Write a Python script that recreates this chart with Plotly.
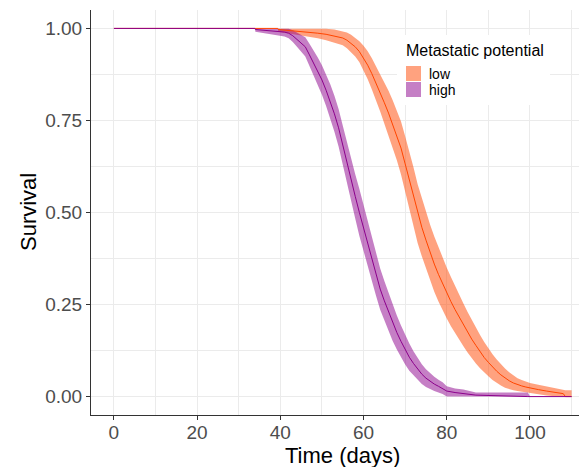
import plotly.graph_objects as go

# ---------------- data ----------------
low_time = [0, 39.4, 39.5, 43, 46, 49, 51, 53, 55, 56, 57, 58, 59, 60, 61, 62, 63, 64, 65, 66, 67, 68, 69,
            70, 71, 72, 73, 74, 75, 76, 77, 78, 79, 80, 81, 82, 83, 84, 85, 86, 87, 88, 89, 90, 91,
            92, 93, 94, 95, 96, 97, 98, 99, 100, 102, 104, 106, 108, 108.5, 110]
low_surv = [1, 1, 0.997, 0.994, 0.991, 0.987, 0.984, 0.980, 0.974, 0.968, 0.960, 0.950, 0.937, 0.920,
            0.900, 0.877, 0.852, 0.826, 0.798, 0.770, 0.740, 0.710, 0.675, 0.632, 0.589, 0.544,
            0.497, 0.460, 0.425, 0.390, 0.360, 0.332, 0.306, 0.281, 0.258, 0.236, 0.215, 0.195,
            0.175, 0.156, 0.139, 0.122, 0.106, 0.093, 0.080, 0.069, 0.059, 0.050, 0.043, 0.037,
            0.032, 0.029, 0.026, 0.023, 0.019, 0.015, 0.011, 0.008, 0.0, 0.0]
low_lower = [1, 1, 0.991, 0.985, 0.980, 0.973, 0.968, 0.962, 0.954, 0.946, 0.936, 0.924, 0.908, 0.886,
             0.862, 0.834, 0.805, 0.774, 0.741, 0.709, 0.675, 0.642, 0.603, 0.557, 0.511, 0.465,
             0.417, 0.381, 0.347, 0.313, 0.285, 0.258, 0.234, 0.212, 0.191, 0.172, 0.154, 0.137,
             0.120, 0.104, 0.090, 0.077, 0.065, 0.055, 0.045, 0.037, 0.030, 0.024, 0.020, 0.017,
             0.015, 0.013, 0.011, 0.009, 0.006, 0.003, 0.001, 0.0, 0.0, 0.0]
low_upper = [1, 1, 1.0, 1.0, 1.0, 1.0, 0.999, 0.997, 0.993, 0.989, 0.983, 0.975, 0.965, 0.953,
             0.938, 0.919, 0.898, 0.877, 0.855, 0.831, 0.805, 0.778, 0.747, 0.707, 0.667, 0.623,
             0.577, 0.539, 0.503, 0.467, 0.435, 0.406, 0.378, 0.350, 0.325, 0.300, 0.276, 0.253,
             0.230, 0.208, 0.188, 0.167, 0.148, 0.131, 0.115, 0.101, 0.088, 0.076, 0.066, 0.058,
             0.050, 0.045, 0.041, 0.037, 0.032, 0.027, 0.022, 0.019, 0.017, 0.017]

high_time = [0, 33.9, 34, 39, 41, 42, 43, 44, 45, 46, 47, 48, 49, 50, 51, 52, 53, 54, 55, 56, 57, 58, 59,
             60, 61, 62, 63, 64, 65, 66, 67, 68, 69, 70, 71, 72, 73, 74, 75, 76, 77, 78, 79, 80,
             82, 84, 87, 99.5, 100, 110]
high_surv = [1, 1, 0.997, 0.993, 0.990, 0.987, 0.980, 0.970, 0.960, 0.950, 0.928, 0.906, 0.884, 0.860,
             0.832, 0.802, 0.768, 0.730, 0.682, 0.634, 0.588, 0.544, 0.500, 0.458, 0.415, 0.372,
             0.332, 0.292, 0.260, 0.230, 0.200, 0.174, 0.150, 0.127, 0.107, 0.090, 0.074, 0.061,
             0.050, 0.041, 0.034, 0.028, 0.022, 0.015, 0.011, 0.008, 0.004, 0.0, 0.0, 0.0]
high_lower = [1, 1, 0.991, 0.983, 0.978, 0.973, 0.963, 0.950, 0.937, 0.924, 0.898, 0.872, 0.847, 0.820,
              0.789, 0.756, 0.719, 0.679, 0.628, 0.578, 0.530, 0.484, 0.436, 0.394, 0.352, 0.311,
              0.274, 0.236, 0.206, 0.179, 0.151, 0.128, 0.107, 0.087, 0.070, 0.057, 0.044, 0.034,
              0.026, 0.020, 0.015, 0.011, 0.007, 0.0, 0.0, 0.0, 0.0, 0.0, 0.0, 0.0]
high_upper = [1, 1, 1.0, 1.0, 1.0, 0.999, 0.995, 0.989, 0.983, 0.976, 0.958, 0.940, 0.921, 0.900,
              0.875, 0.848, 0.817, 0.781, 0.736, 0.690, 0.646, 0.604, 0.564, 0.522, 0.478, 0.433,
              0.390, 0.348, 0.314, 0.281, 0.249, 0.220, 0.193, 0.167, 0.144, 0.123, 0.104, 0.088,
              0.074, 0.063, 0.054, 0.046, 0.039, 0.028, 0.022, 0.019, 0.011, 0.011, 0.0, 0.0]

x_ticks = [0, 20, 40, 60, 80, 100]
y_ticks = [0, 0.25, 0.5, 0.75, 1.0]
legend_title = "Metastatic potential"
group_names = ["low", "high"]

# ---------------- styling ----------------
FONT = "Liberation Sans, Arial, Helvetica, sans-serif"
LOW_LINE = "#FF4500"
LOW_FILL = "rgba(255,69,0,0.5)"
HIGH_LINE = "#8B008B"
HIGH_FILL = "rgba(139,0,139,0.5)"
AX = "#333333"
GRID = "#EBEBEB"

OFF = 8  # default page body margin of the written html
W, H = 587 - OFF, 467 - OFF
ML, MR, MT, MB = 91 - OFF, 0, 10 - OFF, 52

fig = go.Figure()


def band(t, lo, hi, fill):
    fig.add_trace(go.Scatter(x=t, y=lo, mode="lines", line=dict(width=0),
                             hoverinfo="skip", showlegend=False))
    fig.add_trace(go.Scatter(x=t, y=hi, mode="lines", line=dict(width=0),
                             fill="tonexty", fillcolor=fill, hoverinfo="skip", showlegend=False))


band(low_time, low_lower, low_upper, LOW_FILL)
band(high_time, high_lower, high_upper, HIGH_FILL)
fig.add_trace(go.Scatter(x=low_time, y=low_surv, mode="lines", name=group_names[0],
                         line=dict(color=LOW_LINE, width=1), showlegend=False))
fig.add_trace(go.Scatter(x=high_time, y=high_surv, mode="lines", name=group_names[1],
                         line=dict(color=HIGH_LINE, width=1), showlegend=False))

# ---------------- manual legend & titles (paper coordinates from page pixels) ----------------
pw = W - ML - MR
ph = H - MT - MB


def px_x(p):
    return (p - OFF - ML) / pw


def px_y(p):
    return (H + OFF - MB - p) / ph


shapes = [
    dict(type="rect", xref="paper", yref="paper", x0=px_x(397), x1=px_x(550), y0=px_y(105), y1=px_y(35),
         fillcolor="white", line=dict(width=0), layer="above"),
    dict(type="rect", xref="paper", yref="paper", x0=px_x(406), x1=px_x(421), y0=px_y(81), y1=px_y(66),
         fillcolor=LOW_FILL, line=dict(width=0), layer="above"),
    dict(type="rect", xref="paper", yref="paper", x0=px_x(406), x1=px_x(421), y0=px_y(97), y1=px_y(82),
         fillcolor=HIGH_FILL, line=dict(width=0), layer="above"),
]
annotations = [
    dict(text=legend_title, xref="paper", yref="paper", x=px_x(404), y=px_y(50.5), xanchor="left",
         yanchor="middle", showarrow=False, font=dict(family=FONT, size=16, color="black")),
    dict(text=group_names[0], xref="paper", yref="paper", x=px_x(427), y=px_y(74), xanchor="left",
         yanchor="middle", showarrow=False, font=dict(family=FONT, size=14, color="black")),
    dict(text=group_names[1], xref="paper", yref="paper", x=px_x(427), y=px_y(90), xanchor="left",
         yanchor="middle", showarrow=False, font=dict(family=FONT, size=14, color="black")),
    dict(text="Time (days)", xref="paper", yref="paper", x=px_x(342), y=px_y(455), xanchor="center",
         yanchor="middle", showarrow=False, font=dict(family=FONT, size=22, color="black")),
    dict(text="Survival", xref="paper", yref="paper", x=px_x(28), y=px_y(212), xanchor="center",
         yanchor="middle", textangle=-90, showarrow=False, font=dict(family=FONT, size=22, color="black")),
]

fig.update_layout(
    width=W, height=H,
    margin=dict(l=ML, r=MR, t=MT, b=MB, pad=0, autoexpand=False),
    paper_bgcolor="white", plot_bgcolor="white",
    font=dict(family=FONT),
    showlegend=False,
    shapes=shapes,
    annotations=annotations,
)

fig.update_xaxes(
    range=[-5.5, 113.7], tickvals=x_ticks, ticktext=[str(v) for v in x_ticks], automargin=False,
    showline=True, linecolor=AX, linewidth=1.1, mirror=False,
    ticks="outside", ticklen=4, tickwidth=1.1, tickcolor=AX, ticklabelstandoff=-4,
    tickfont=dict(family=FONT, size=19, color="#4D4D4D"),
    showgrid=True, gridcolor=GRID, gridwidth=1.2, zeroline=False,
    minor=dict(tickvals=[10, 30, 50, 70, 90, 110], showgrid=True, gridcolor=GRID, gridwidth=0.7),
)
fig.update_yaxes(
    range=[-0.05, 1.05], tickvals=y_ticks, tickformat=".2f", automargin=False,
    showline=True, linecolor=AX, linewidth=1.1, mirror=False,
    ticks="outside", ticklen=4, tickwidth=1.1, tickcolor=AX,
    tickfont=dict(family=FONT, size=19, color="#4D4D4D"),
    showgrid=True, gridcolor=GRID, gridwidth=1.2, zeroline=False,
    minor=dict(tickvals=[0.125, 0.375, 0.625, 0.875], showgrid=True, gridcolor=GRID, gridwidth=0.7),
)

fig.write_html("out.html")
